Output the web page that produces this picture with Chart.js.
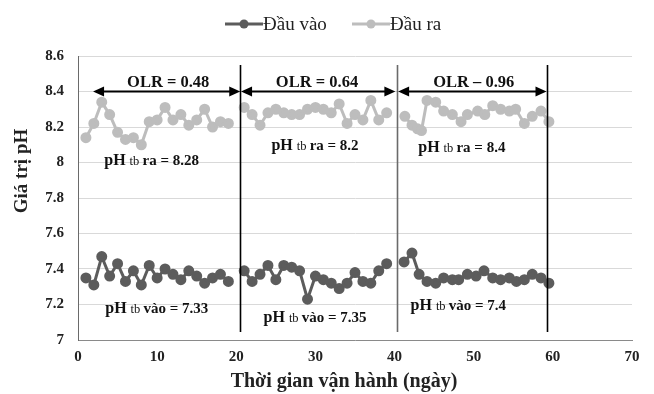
<!DOCTYPE html>
<html>
<head>
<meta charset="utf-8">
<script src="https://cdn.jsdelivr.net/npm/chart.js@4/dist/chart.umd.min.js"></script>
<style>
html,body{margin:0;padding:0;background:#fff;}
#wrap{width:654px;height:394px;position:relative;}
</style>
</head>
<body>
<div id="wrap"><canvas id="c" width="654" height="394"></canvas></div>
<script>
// ---- data ----
const dayInlet = [1,2,3,4,5,6,7,8,9,10,11,12,13,14,15,16,17,18,19,
  21,22,23,24,25,26,27,28,29,30,31,32,33,34,35,36,37,38,39,
  41.2,42.2,43.1,44.1,45.2,46.2,47.3,48.1,49.2,50.3,51.3,52.4,53.4,54.5,55.4,56.4,57.4,58.5,59.5];
const phInlet = [7.35,7.31,7.47,7.36,7.43,7.33,7.39,7.31,7.42,7.35,7.40,7.37,7.34,7.39,7.36,7.32,7.35,7.37,7.33,
  7.39,7.33,7.37,7.42,7.34,7.42,7.41,7.39,7.23,7.36,7.34,7.32,7.29,7.32,7.38,7.33,7.32,7.39,7.43,
  7.44,7.49,7.37,7.33,7.32,7.35,7.34,7.34,7.37,7.36,7.39,7.35,7.34,7.35,7.33,7.34,7.37,7.35,7.32];
const dayOutlet = [1,2,3,4,5,6,7,8,9,10,11,12,13,14,15,16,17,18,19,
  21,22,23,24,25,26,27,28,29,30,31,32,33,34,35,36,37,38,39,
  41.3,42.2,42.9,43.4,44.1,45.2,46.2,47.3,48.4,49.2,50.5,51.4,52.4,53.4,54.5,55.3,56.4,57.4,58.5,59.5];
const phOutlet = [8.14,8.22,8.34,8.27,8.17,8.13,8.14,8.10,8.23,8.24,8.31,8.24,8.27,8.21,8.24,8.30,8.20,8.23,8.22,
  8.31,8.27,8.21,8.28,8.30,8.28,8.27,8.27,8.30,8.31,8.30,8.28,8.33,8.22,8.27,8.24,8.35,8.24,8.28,
  8.26,8.21,8.19,8.18,8.35,8.34,8.29,8.27,8.23,8.27,8.29,8.27,8.32,8.30,8.29,8.30,8.22,8.26,8.29,8.23];
const seriesNames = ['Đầu vào','Đầu ra'];
const phaseBounds = [20.5, 40.3, 59.3];
const olrLabels = ['OLR = 0.48','OLR = 0.64','OLR – 0.96'];
const olrArrows = [[1.9,20.5],[20.6,40.1],[40.45,59.2]];
const outletMeanLabels = ['8.28','8.2','8.4'];
const inletMeanLabels = ['7.33','7.35','7.4'];
const yTicks = [7,7.2,7.4,7.6,7.8,8,8.2,8.4,8.6];
const xTicks = [0,10,20,30,40,50,60,70];
const xTitle = 'Thời gian vận hành (ngày)';
const yTitle = 'Giá trị pH';

// build point tables with gaps between phases
function buildPoints(days, vals){
  const out=[];
  for(let i=0;i<days.length;i++){
    if(i>0 && days[i]-days[i-1]>1.5){ out.push({x:(days[i]+days[i-1])/2, y:null}); }
    out.push({x:days[i], y:vals[i]});
  }
  return out;
}

const DARK='#5c5c5c', LIGHT='#bdbdbd';
const SERIF="'Liberation Serif','Times New Roman',serif";

const annot = {
  id:'annot',
  afterDatasetsDraw(chart){
    const {ctx, scales:{x,y}} = chart;
    ctx.save();
    const sepColors=['#000','#6a6a6a','#000'];
    phaseBounds.forEach((b,i)=>{
      ctx.strokeStyle=sepColors[i]; ctx.lineWidth=1.6;
      ctx.beginPath();
      const px=Math.round(x.getPixelForValue(b))+0.5;
      ctx.moveTo(px, y.getPixelForValue(8.55));
      ctx.lineTo(px, y.getPixelForValue(7.045));
      ctx.stroke();
    });
    const ay = y.getPixelForValue(8.4);
    olrArrows.forEach(([a,b])=>{
      const x1=x.getPixelForValue(a), x2=x.getPixelForValue(b);
      ctx.strokeStyle='#000'; ctx.fillStyle='#000'; ctx.lineWidth=1.8;
      ctx.beginPath(); ctx.moveTo(x1+6,ay); ctx.lineTo(x2-6,ay); ctx.stroke();
      ctx.beginPath(); ctx.moveTo(x1,ay); ctx.lineTo(x1+11,ay-5); ctx.lineTo(x1+11,ay+5); ctx.closePath(); ctx.fill();
      ctx.beginPath(); ctx.moveTo(x2,ay); ctx.lineTo(x2-11,ay-5); ctx.lineTo(x2-11,ay+5); ctx.closePath(); ctx.fill();
    });
    const olrPos=[[11.4,8.448],[30.2,8.448],[50,8.451]];
    ctx.fillStyle='#111'; ctx.textAlign='center'; ctx.textBaseline='middle';
    ctx.font="bold 16.5px "+SERIF;
    olrLabels.forEach((t,i)=>{
      const [dx,dy]=olrPos[i];
      ctx.fillText(t, x.getPixelForValue(dx), y.getPixelForValue(dy));
    });
    function meanLabel(cx, cy, word, val){
      const parts=[['pH ',"bold 16px "+SERIF],['tb ',"12.5px "+SERIF],[word+' = '+val,"bold 15px "+SERIF]];
      let w=0; parts.forEach(p=>{ctx.font=p[1]; w+=ctx.measureText(p[0]).width;});
      let sx=x.getPixelForValue(cx)-w/2; const py=y.getPixelForValue(cy);
      ctx.textAlign='left'; ctx.textBaseline='alphabetic';
      parts.forEach(p=>{ctx.font=p[1]; ctx.fillText(p[0], sx, py+5); sx+=ctx.measureText(p[0]).width;});
    }
    const outPos=[[9.3,8.014],[29.95,8.099],[48.5,8.086]];
    const inPos=[[9.95,7.179],[29.95,7.128],[48.05,7.197]];
    outPos.forEach((p,i)=>meanLabel(p[0],p[1],'ra',outletMeanLabels[i]));
    inPos.forEach((p,i)=>meanLabel(p[0],p[1],'vào',inletMeanLabels[i]));
    ctx.restore();
  },
  afterDraw(chart){
    const ctx=chart.ctx; ctx.save();
    // legend
    const items=[{c:DARK,x1:225,x2:263,t:seriesNames[0],tx:263},{c:LIGHT,x1:352,x2:390,t:seriesNames[1],tx:390}];
    const ly=24;
    items.forEach(it=>{
      ctx.strokeStyle=it.c; ctx.lineWidth=3;
      ctx.beginPath(); ctx.moveTo(it.x1,ly); ctx.lineTo(it.x2,ly); ctx.stroke();
      ctx.fillStyle=it.c; ctx.beginPath(); ctx.arc((it.x1+it.x2)/2,ly,4.5,0,Math.PI*2); ctx.fill();
      ctx.fillStyle='#222'; ctx.font="19px "+SERIF; ctx.textAlign='left'; ctx.textBaseline='middle';
      ctx.fillText(it.t,it.tx,ly+1);
    });
    // axis titles
    ctx.fillStyle='#222'; ctx.textAlign='center'; ctx.textBaseline='middle';
    ctx.font="bold 20px "+SERIF;
    ctx.fillText(xTitle, 344, 382);
    ctx.translate(22,171); ctx.rotate(-Math.PI/2);
    ctx.font="bold 19px "+SERIF;
    ctx.fillText(yTitle, 0, 0);
    ctx.restore();
  }
};

new Chart(document.getElementById('c'),{
  type:'line',
  data:{datasets:[
    {label:seriesNames[0], data:buildPoints(dayInlet,phInlet), borderColor:DARK, backgroundColor:DARK,
     pointBackgroundColor:DARK, pointBorderColor:DARK, pointRadius:4, borderWidth:3, spanGaps:false, tension:0},
    {label:seriesNames[1], data:buildPoints(dayOutlet,phOutlet), borderColor:LIGHT, backgroundColor:LIGHT,
     pointBackgroundColor:LIGHT, pointBorderColor:LIGHT, pointRadius:4, borderWidth:3, spanGaps:false, tension:0}
  ]},
  options:{
    responsive:false, animation:false,
    layout:{padding:{top:56,right:22,left:0,bottom:0}},
    plugins:{legend:{display:false}, tooltip:{enabled:false}},
    scales:{
      x:{type:'linear', min:0, max:70,
        afterBuildTicks(s){ s.ticks = xTicks.map(v=>({value:v})); },
        afterFit(s){ s.height=54; },
        grid:{display:false, drawTicks:false},
        border:{color:'#8a8a8a', width:1},
        ticks:{padding:8, color:'#222', font:{family:SERIF, size:15, weight:'bold'}, maxRotation:0}
      },
      y:{min:7, max:8.6,
        afterBuildTicks(s){ s.ticks = yTicks.map(v=>({value:v})); },
        afterFit(s){ s.width=78; },
        grid:{color:'#d9d9d9', drawTicks:false},
        border:{color:'#6a6a6a', width:1},
        ticks:{padding:14, color:'#222', font:{family:SERIF, size:15, weight:'bold'},
          callback:v=>String(+(+v).toFixed(1))}
      }
    }
  },
  plugins:[annot]
});
</script>
</body>
</html>
